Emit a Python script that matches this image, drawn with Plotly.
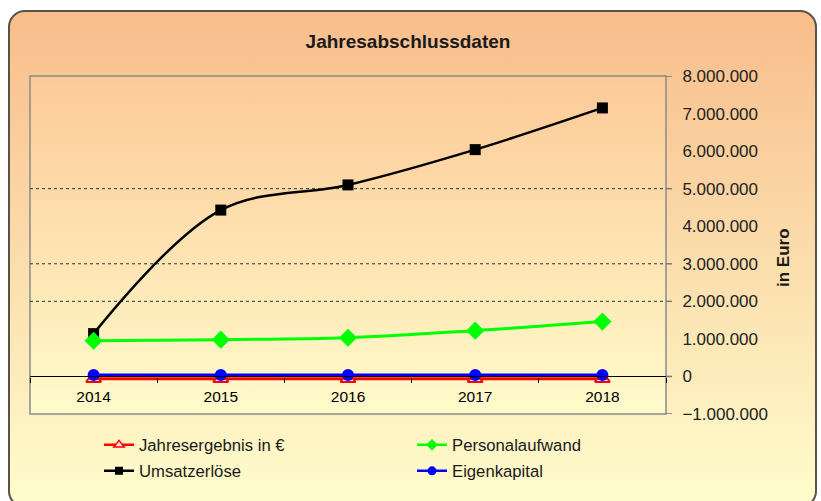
import base64
import plotly.graph_objects as go

years = ["2014", "2015", "2016", "2017", "2018"]
jahresergebnis = [-60000, -60000, -60000, -60000, -60000]
personalaufwand = [950000, 980000, 1030000, 1220000, 1460000]
umsatzerloese = [1140000, 4430000, 5100000, 6040000, 7150000]
eigenkapital = [40000, 40000, 40000, 40000, 40000]

y_ticks = [-1000000, 0, 1000000, 2000000, 3000000, 4000000, 5000000, 6000000, 7000000, 8000000]
grid_vals = [5000000, 3000000, 2000000]
tick_mark_vals = [8000000, 5000000, 3000000, 2000000, 0, -1000000]

W, H = 821, 501
L, R, T, B = 30, 666, 76, 414
PW, PH = R - L, B - T
FONT = "Liberation Sans, Arial, sans-serif"

svg = f'''<svg xmlns="http://www.w3.org/2000/svg" width="{W}" height="{H}" viewBox="0 0 {W} {H}">
<defs>
<linearGradient id="g" x1="0" y1="0" x2="0" y2="1">
<stop offset="0" stop-color="#F8BD8B"/><stop offset="1" stop-color="#FFFDCD"/></linearGradient>
<linearGradient id="p" x1="0" y1="0" x2="0" y2="1">
<stop offset="0" stop-color="#FCCA97"/><stop offset="1" stop-color="#FFFBCB"/></linearGradient>
</defs>
<rect x="0" y="0" width="{W}" height="{H}" fill="#ffffff"/>
<rect x="9" y="11" width="807" height="496" rx="16" ry="16" fill="url(#g)" stroke="#5a5246" stroke-width="2"/>
<rect x="{L}" y="{T}" width="{PW}" height="{PH}" fill="url(#p)" stroke="#8a8a8a" stroke-width="1.5"/>
</svg>'''
src = "data:image/svg+xml;base64," + base64.b64encode(svg.encode("utf-8")).decode("ascii")

series = [
    dict(name="Jahresergebnis in €", y=jahresergebnis, color="#FF0000", width=3,
         marker=dict(symbol="triangle-up", size=13, color="#FFE8E8", line=dict(color="#FF0000", width=2)),
         lmarker=dict(symbol="triangle-up", size=9, color="#FFE0E0", line=dict(color="#FF0000", width=1.5)),
         legend="legend"),
    dict(name="Umsatzerlöse", y=umsatzerloese, color="#000000", width=2.5,
         marker=dict(symbol="square", size=11, color="#000000"),
         lmarker=dict(symbol="square", size=8, color="#000000"),
         legend="legend2"),
    dict(name="Personalaufwand", y=personalaufwand, color="#00FF00", width=3,
         marker=dict(symbol="diamond", size=14, color="#00FF00"),
         lmarker=dict(symbol="diamond", size=9, color="#00FF00"),
         legend="legend"),
    dict(name="Eigenkapital", y=eigenkapital, color="#0000FF", width=3,
         marker=dict(symbol="circle", size=12, color="#0000FF"),
         lmarker=dict(symbol="circle", size=9, color="#0000FF"),
         legend="legend2"),
]

fig = go.Figure()
for s in series:
    fig.add_trace(go.Scatter(
        x=years, y=s["y"], name=s["name"], mode="lines+markers", showlegend=False,
        line=dict(color=s["color"], width=s["width"], shape="spline", smoothing=1.0),
        marker=s["marker"]))
# legend entries with smaller symbols
for s in [series[0], series[2], series[1], series[3]]:
    fig.add_trace(go.Scatter(
        x=[None], y=[None], name=s["name"], mode="lines+markers", showlegend=True,
        line=dict(color=s["color"], width=2.5), marker=s["lmarker"], legend=s["legend"]))

shapes = []
for v in grid_vals:
    shapes.append(dict(type="line", xref="paper", yref="y", x0=0, x1=1, y0=v, y1=v,
                       line=dict(color="#333333", width=1, dash="dot"), layer="below"))
for v in tick_mark_vals:
    shapes.append(dict(type="line", xref="paper", yref="y", x0=1, x1=1 + 6 / PW, y0=v, y1=v,
                       line=dict(color="#777777", width=1.5), layer="above"))

legend_common = dict(orientation="h", bgcolor="rgba(0,0,0,0)", borderwidth=0,
                     font=dict(family=FONT, size=16.7, color="#1a1a1a"),
                     entrywidth=268, entrywidthmode="pixels", itemclick=False,
                     xanchor="left", yanchor="middle", traceorder="normal")

fig.update_layout(
    width=W, height=H,
    margin=dict(l=L, r=W - R, t=T, b=H - B, pad=0),
    paper_bgcolor="#ffffff", plot_bgcolor="rgba(0,0,0,0)",
    separators=",.",
    font=dict(family=FONT, size=16, color="#222222"),
    title=dict(text="<b>Jahresabschlussdaten</b>", x=408 / W, xanchor="center",
               y=1 - 41 / H, yanchor="middle", yref="container",
               font=dict(family=FONT, size=19, color="#1a1a1a")),
    images=[dict(source=src, xref="paper", yref="paper", x=-L / PW, y=1 + T / PH,
                 sizex=W / PW, sizey=H / PH, sizing="stretch", layer="below",
                 xanchor="left", yanchor="top")],
    shapes=shapes,
    xaxis=dict(type="category", range=[-0.5, 4.5], anchor="free", position=1 / 9,
               showline=True, linecolor="#000000", linewidth=1.2,
               ticks="outside", tickson="boundaries", ticklen=5, tickcolor="#000000",
               ticklabelstandoff=6,
               showgrid=False, zeroline=False, fixedrange=True,
               tickfont=dict(family=FONT, size=15.5, color="#000000")),
    yaxis=dict(side="right", range=[-1000000, 8000000], tickvals=y_ticks,
               tickformat=",d", showgrid=False, zeroline=False, showline=False,
               ticks="outside", ticklen=6, tickcolor="rgba(0,0,0,0)", ticklabelstandoff=6,
               fixedrange=True, tickfont=dict(family=FONT, size=17, color="#222222")),
    annotations=[dict(text="<b>in Euro</b>", textangle=-90, xref="paper", yref="paper",
                      x=(783 - L) / PW, y=(B - 257) / PH, showarrow=False,
                      xanchor="center", yanchor="middle",
                      font=dict(family=FONT, size=17, color="#1a1a1a"))],
    legend=dict(x=(99 - L) / PW, y=(B - 445) / PH, **legend_common),
    legend2=dict(x=(99 - L) / PW, y=(B - 471) / PH, **legend_common),
    showlegend=True,
)

fig.write_html("out.html", config={"displayModeBar": False},
               post_script="document.body.style.margin='0';document.body.style.padding='0';")
